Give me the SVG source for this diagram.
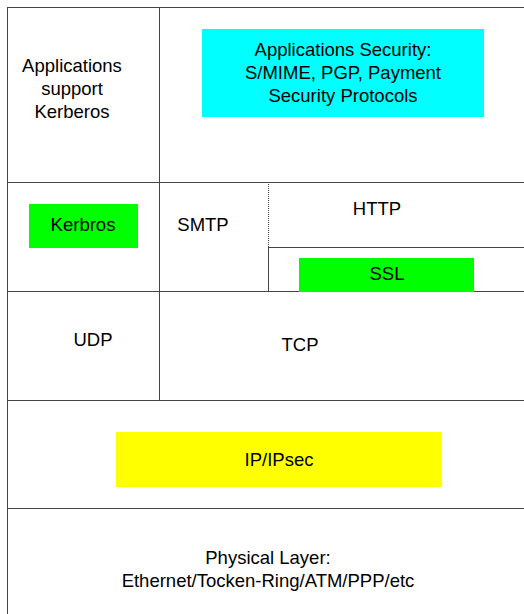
<svg xmlns="http://www.w3.org/2000/svg" width="524" height="614" viewBox="0 0 524 614">
<style>
text{font-family:"Liberation Sans",Arial,sans-serif;font-size:18.5px;fill:#000;text-anchor:middle}
.ln{stroke:#444;stroke-width:1;fill:none}
.dot{stroke:#444;stroke-width:1;stroke-dasharray:1,1;fill:none}
</style>
<rect width="524" height="614" fill="#fff"/>
<g id="connectors">
<line class="ln" x1="7" y1="7.5" x2="524" y2="7.5"/>
<line class="ln" x1="7.5" y1="7" x2="7.5" y2="614"/>
<line class="ln" x1="159.5" y1="7" x2="159.5" y2="400"/>
<line class="ln" x1="7" y1="182.5" x2="524" y2="182.5"/>
<line class="dot" x1="268.5" y1="182" x2="268.5" y2="248"/>
<line class="ln" x1="268.5" y1="248" x2="268.5" y2="291"/>
<line class="ln" x1="268" y1="247.5" x2="524" y2="247.5"/>
<line class="ln" x1="7" y1="291.5" x2="524" y2="291.5"/>
<line class="ln" x1="7" y1="400.5" x2="524" y2="400.5"/>
<line class="ln" x1="7" y1="508.5" x2="524" y2="508.5"/>
</g>
<g id="apps-kerberos"><text x="72" y="72">Applications</text><text x="72" y="95">support</text><text x="72" y="118">Kerberos</text></g>
<g id="apps-security"><rect x="202" y="29" width="282" height="88" fill="#00ffff"/><text x="343" y="56">Applications Security:</text><text x="343" y="79">S/MIME, PGP, Payment</text><text x="343" y="102">Security Protocols</text></g>
<g id="kerbros"><rect x="29" y="204" width="109" height="44" fill="#00ff00"/><text x="83" y="231">Kerbros</text></g>
<g id="smtp"><text x="203" y="231">SMTP</text></g>
<g id="http"><text x="377" y="215">HTTP</text></g>
<g id="ssl"><rect x="299" y="258" width="175" height="34" fill="#00ff00"/><text x="387" y="280">SSL</text></g>
<g id="udp"><text x="93" y="346">UDP</text></g>
<g id="tcp"><text x="300" y="351">TCP</text></g>
<g id="ip"><rect x="116" y="432" width="326" height="55" fill="#ffff00"/><text x="279" y="466">IP/IPsec</text></g>
<g id="physical"><text x="268" y="564">Physical Layer:</text><text x="268" y="587">Ethernet/Tocken-Ring/ATM/PPP/etc</text></g>
</svg>
